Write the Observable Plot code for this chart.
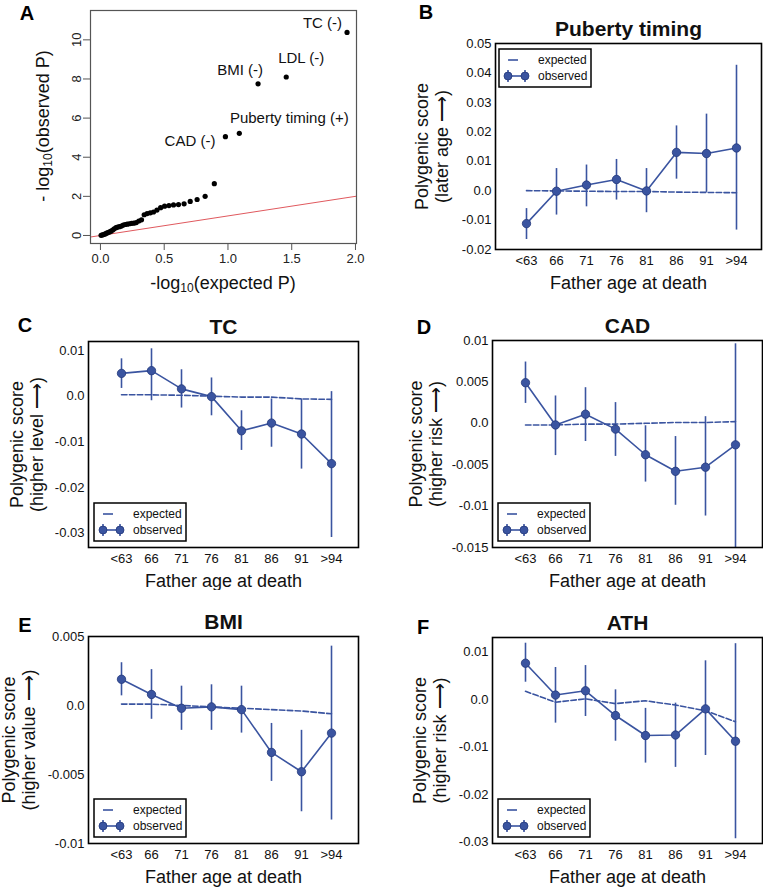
<!DOCTYPE html>
<html><head><meta charset="utf-8">
<script src="https://cdn.jsdelivr.net/npm/d3@7"></script>
<script src="https://cdn.jsdelivr.net/npm/@observablehq/plot@0.6"></script>
<style>
body{margin:0;background:#fff;}
#fig{position:relative;width:763px;height:887px;font-family:"Liberation Sans",Arial,Helvetica,sans-serif;background:#fff;overflow:hidden;}
#fig svg{position:absolute;}
.plab{position:absolute;font-weight:bold;font-size:20px;transform:translate(-50%,-50%);line-height:1;}
</style>
</head><body><div id="fig"></div>
<script>
// ---------- data ----------
const ageGroups = ["<63","66","71","76","81","86","91",">94"];

// Panel A: QQ plot
const qqExpected = [1.934,1.457,1.236,1.089,0.980,0.893,0.821,0.758,0.704,0.656,0.612,0.573,0.537,0.503,0.472,0.443,0.416,0.391,0.366,0.343,0.322,0.301,0.281,0.262,0.244,0.227,0.210,0.194,0.179,0.164,0.149,0.135,0.122,0.108,0.096,0.083,0.071,0.059,0.048,0.037,0.026,0.015,0.005];
const qqObserved = [10.38,8.10,7.75,5.22,5.05,2.65,2.00,1.84,1.74,1.62,1.58,1.56,1.53,1.50,1.42,1.30,1.20,1.16,1.12,1.06,0.80,0.74,0.66,0.63,0.62,0.60,0.58,0.56,0.53,0.48,0.45,0.43,0.40,0.34,0.28,0.22,0.18,0.15,0.12,0.08,0.05,0.03,0.01];
const qqLabels = ["TC (-)","LDL (-)","BMI (-)","Puberty timing (+)","CAD (-)"];
const qqXTicks = [0,0.5,1,1.5,2];
const qqYTicks = [0,2,4,6,8,10];

// Panel B: Puberty timing
const pubertyObs = [-0.0112,-0.0002,0.0019,0.0038,-0.0001,0.0130,0.0126,0.0145];
const pubertyLo  = [-0.0166,-0.0083,-0.0055,-0.0032,-0.0075,0.0039,-0.0006,-0.0134];
const pubertyHi  = [-0.0061,0.0075,0.0087,0.0106,0.0075,0.0220,0.0260,0.0426];
const pubertyExp = [0.0000,-0.0001,-0.0002,-0.0003,-0.0003,-0.0005,-0.0006,-0.0007];
const pubertyTicks = [-0.02,-0.01,0,0.01,0.02,0.03,0.04,0.05];

// Panel C: TC
const tcObs = [0.0050,0.0056,0.0016,-0.0001,-0.0076,-0.0059,-0.0083,-0.0148];
const tcLo  = [0.0017,-0.0010,-0.0026,-0.0043,-0.0119,-0.0112,-0.0160,-0.0310];
const tcHi  = [0.0082,0.0104,0.0058,0.0040,-0.0032,-0.0006,-0.0006,0.0010];
const tcExp = [0.0003,0.0003,0.0002,0.0000,-0.0002,-0.0002,-0.0006,-0.0007];
const tcTicks = [-0.03,-0.02,-0.01,0,0.01];

// Panel D: CAD
const cadObs = [0.0049,-0.0002,0.0011,-0.0007,-0.0038,-0.0058,-0.0053,-0.0026];
const cadLo  = [0.0024,-0.0039,-0.0022,-0.0040,-0.0071,-0.0099,-0.0112,-0.0160];
const cadHi  = [0.0074,0.0033,0.0043,0.0025,-0.0003,-0.0016,0.0008,0.0096];
const cadExp = [-0.0002,-0.0002,-0.0001,-0.0001,0.0000,0.0001,0.0001,0.0002];
const cadTicks = [-0.015,-0.01,-0.005,0,0.005,0.01];

// Panel E: BMI
const bmiObs = [0.0019,0.0008,-0.0002,-0.0001,-0.0003,-0.0034,-0.0048,-0.0020];
const bmiLo  = [0.0007,-0.0010,-0.0018,-0.0018,-0.0020,-0.0055,-0.0077,-0.0083];
const bmiHi  = [0.0031,0.0026,0.0014,0.0015,0.0014,-0.0013,-0.0018,0.0043];
const bmiExp = [0.0001,0.0001,0.0000,-0.0001,-0.0002,-0.0003,-0.0004,-0.0006];
const bmiTicks = [-0.01,-0.005,0,0.005];

// Panel F: ATH
const athObs = [0.0076,0.0009,0.0018,-0.0034,-0.0076,-0.0075,-0.0020,-0.0088];
const athLo  = [0.0036,-0.0050,-0.0036,-0.0088,-0.0134,-0.0143,-0.0118,-0.0293];
const athHi  = [0.0118,0.0067,0.0071,0.0020,-0.0019,-0.0008,0.0081,0.0117];
const athExp = [0.0017,-0.0006,0.0001,-0.0009,-0.0003,-0.0012,-0.0024,-0.0047];
const athTicks = [-0.03,-0.02,-0.01,0,0.01];

// ---------- drawing ----------
const FONT = "'Liberation Sans', Arial, Helvetica, sans-serif";
const BLUE = "#3A54A0";
const BLUE_EDGE = "#22377a";
const fig = document.getElementById("fig");

function place(svg, left, top) {
  svg.style.left = left + "px";
  svg.style.top = top + "px";
  fig.appendChild(svg);
}

// Panel A
(function() {
  const xDom = [-0.078, 2.008];
  const diag = xDom.map(v => ({x: v, y: v}));
  const pts = qqExpected.map((x, i) => ({x, y: qqObserved[i]}));
  const labelStyle = [
    {dx: -5, dy: -9, anchor: "end"},
    {dx: 15, dy: -19, anchor: "middle"},
    {dx: -18, dy: -14, anchor: "middle"},
    {dx: 50, dy: -15, anchor: "middle"},
    {dx: -10, dy: 5, anchor: "end"}
  ];
  const labelMarks = qqLabels.map((lab, i) => Plot.text([pts[i]], {
    x: "x", y: "y", text: () => lab, dx: labelStyle[i].dx, dy: labelStyle[i].dy,
    textAnchor: labelStyle[i].anchor, fontSize: 15, fill: "#111"
  }));
  const svg = Plot.plot({
    width: 381, height: 295,
    marginLeft: 90, marginRight: 25, marginTop: 10, marginBottom: 52,
    style: {fontFamily: FONT, fontSize: "13px", color: "#222", background: "white", maxWidth: "none"},
    x: {domain: xDom},
    y: {domain: [-0.41, 11.5]},
    marks: [
      Plot.line(diag, {x: "x", y: "y", stroke: "#e0595e", strokeWidth: 1, clip: true}),
      Plot.dot(pts, {x: "x", y: "y", r: 2.6, fill: "#000"}),
      ...labelMarks,
      Plot.frame({stroke: "#555", strokeWidth: 1.2}),
      Plot.axisX({ticks: qqXTicks, tickFormat: d3.format(".1f"), tickSize: 7, tickPadding: 3, label: null, stroke: "#555", fontSize: 13}),
      Plot.axisY({ticks: qqYTicks, tickSize: 7, tickPadding: 3, tickRotate: -90, label: null, stroke: "#555", fontSize: 13})
    ]
  });
  const s = d3.select(svg);
  const ty = s.append("text").attr("transform", "translate(43,126) rotate(-90)")
    .attr("text-anchor", "middle").attr("dominant-baseline", "central")
    .style("font-size", "18px").style("font-family", FONT).attr("fill", "#111");
  ty.append("tspan").text("- log");
  ty.append("tspan").attr("dy", 5).style("font-size", "12px").text("10");
  ty.append("tspan").attr("dy", -5).text("(observed P)");
  const tx = s.append("text").attr("x", 223).attr("y", 283)
    .attr("text-anchor", "middle").attr("dominant-baseline", "central")
    .style("font-size", "18px").style("font-family", FONT).attr("fill", "#111");
  tx.append("tspan").text("-log");
  tx.append("tspan").attr("dy", 5).style("font-size", "12px").text("10");
  tx.append("tspan").attr("dy", -5).text("(expected P)");
  place(svg, 0, 0);
})();

function fmt(d) { return d === 0 ? "0.0" : String(d); }

function addLegend(svg, x0, y0) {
  const g = d3.select(svg).append("g");
  g.append("rect").attr("x", x0).attr("y", y0).attr("width", 92).attr("height", 38)
    .attr("fill", "white").attr("stroke", "#000").attr("stroke-width", 1.5);
  const r1 = y0 + 11, r2 = y0 + 27;
  g.append("line").attr("x1", x0 + 9).attr("x2", x0 + 19).attr("y1", r1).attr("y2", r1)
    .attr("stroke", BLUE).attr("stroke-width", 1.6);
  g.append("line").attr("x1", x0 + 9).attr("x2", x0 + 26).attr("y1", r2).attr("y2", r2)
    .attr("stroke", BLUE).attr("stroke-width", 1.6);
  [x0 + 9, x0 + 26].forEach(cx => {
    g.append("line").attr("x1", cx).attr("x2", cx).attr("y1", r2 - 6).attr("y2", r2 + 6)
      .attr("stroke", BLUE).attr("stroke-width", 1.6);
    g.append("circle").attr("cx", cx).attr("cy", r2).attr("r", 4)
      .attr("fill", BLUE).attr("stroke", BLUE_EDGE).attr("stroke-width", 0.8);
  });
  [["expected", r1], ["observed", r2]].forEach(([t, yy]) => {
    g.append("text").attr("x", x0 + 39).attr("y", yy).attr("dominant-baseline", "central")
      .attr("text-anchor", "start")
      .style("font-size", "12px").style("font-family", FONT).attr("fill", "#111").text(t);
  });
}

function seriesPanel(cfg) {
  const obs = ageGroups.map((g, i) => ({g, y: cfg.obs[i], lo: cfg.lo[i], hi: cfg.hi[i]}));
  const exp = ageGroups.map((g, i) => ({g, y: cfg.exp[i]}));
  const svg = Plot.plot({
    width: cfg.w, height: cfg.h,
    marginLeft: cfg.ml, marginRight: cfg.mr, marginTop: cfg.mt, marginBottom: cfg.mb,
    style: {fontFamily: FONT, fontSize: "13px", color: "#111", background: "white", maxWidth: "none"},
    x: {type: "point", domain: ageGroups, padding: 0.9, align: 0.55},
    y: {domain: cfg.domain},
    marks: [
      Plot.line(exp, {x: "g", y: "y", stroke: BLUE, strokeWidth: 1.6, strokeDasharray: "5.5,2.4"}),
      Plot.ruleX(obs, {x: "g", y1: "lo", y2: "hi", stroke: BLUE, strokeWidth: 1.6, clip: true}),
      Plot.line(obs, {x: "g", y: "y", stroke: BLUE, strokeWidth: 1.6}),
      Plot.dot(obs, {x: "g", y: "y", r: 4.2, fill: BLUE, stroke: BLUE_EDGE, strokeWidth: 0.8}),
      Plot.frame({stroke: "#000", strokeWidth: 1.6}),
      Plot.axisY({ticks: cfg.ticks, tickSize: 0, tickPadding: 4, tickFormat: fmt, label: null, fontSize: 13}),
      Plot.axisX({tickSize: 0, tickPadding: 6, label: null, fontSize: 13}),
      Plot.text([cfg.title], {text: d => d, frameAnchor: "top", lineAnchor: "middle", textAnchor: "middle", dy: -14, fontSize: 21, fontWeight: "bold"}),
      Plot.text(["Father age at death"], {text: d => d, frameAnchor: "bottom", lineAnchor: "middle", textAnchor: "middle", dy: 33.5, fontSize: 18}),
      Plot.text(["Polygenic score\n" + cfg.ylab], {text: d => d, frameAnchor: "left", lineAnchor: "middle", textAnchor: "middle", dx: cfg.ydx, rotate: -90, fontSize: 18, lineHeight: 1.1})
    ]
  });
  const fh = cfg.h - cfg.mt - cfg.mb;
  if (cfg.legend === "top") addLegend(svg, cfg.ml + 4, cfg.mt + 6);
  else addLegend(svg, cfg.ml + 6, cfg.mt + fh - 6 - 38);
  place(svg, cfg.left, cfg.top);
}

seriesPanel({left: 381, top: 0, w: 382, h: 295, ml: 114, mr: 2, mt: 43, mb: 46,
  obs: pubertyObs, lo: pubertyLo, hi: pubertyHi, exp: pubertyExp, ticks: pubertyTicks,
  domain: [-0.02, 0.05], title: "Puberty timing", ylab: "(later age \u27F6)", ydx: -64, legend: "top"});
seriesPanel({left: 0, top: 295, w: 381, h: 295, ml: 88, mr: 23, mt: 46, mb: 43,
  obs: tcObs, lo: tcLo, hi: tcHi, exp: tcExp, ticks: tcTicks,
  domain: [-0.0332, 0.012], title: "TC", ylab: "(higher level \u27F6)", ydx: -62, legend: "bottom"});
seriesPanel({left: 381, top: 295, w: 382, h: 295, ml: 111, mr: 1, mt: 45, mb: 43,
  obs: cadObs, lo: cadLo, hi: cadHi, exp: cadExp, ticks: cadTicks,
  domain: [-0.015, 0.01], title: "CAD", ylab: "(higher risk \u27F6)", ydx: -67, legend: "bottom"});
seriesPanel({left: 0, top: 590, w: 381, h: 297, ml: 88, mr: 23, mt: 46, mb: 44,
  obs: bmiObs, lo: bmiLo, hi: bmiHi, exp: bmiExp, ticks: bmiTicks,
  domain: [-0.01, 0.005], title: "BMI", ylab: "(higher value \u27F6)", ydx: -70, legend: "bottom"});
seriesPanel({left: 381, top: 590, w: 382, h: 297, ml: 111, mr: 1, mt: 47, mb: 44,
  obs: athObs, lo: athLo, hi: athHi, exp: athExp, ticks: athTicks,
  domain: [-0.0303, 0.013], title: "ATH", ylab: "(higher risk \u27F6)", ydx: -63, legend: "bottom"});

// Panel letters
[["A", 27, 13], ["B", 426, 12], ["C", 25, 325], ["D", 424, 327], ["E", 25, 625], ["F", 423, 627]].forEach(([t, x, y]) => {
  const d = document.createElement("div");
  d.className = "plab"; d.textContent = t;
  d.style.left = x + "px"; d.style.top = y + "px";
  fig.appendChild(d);
});
</script>
</body></html>
